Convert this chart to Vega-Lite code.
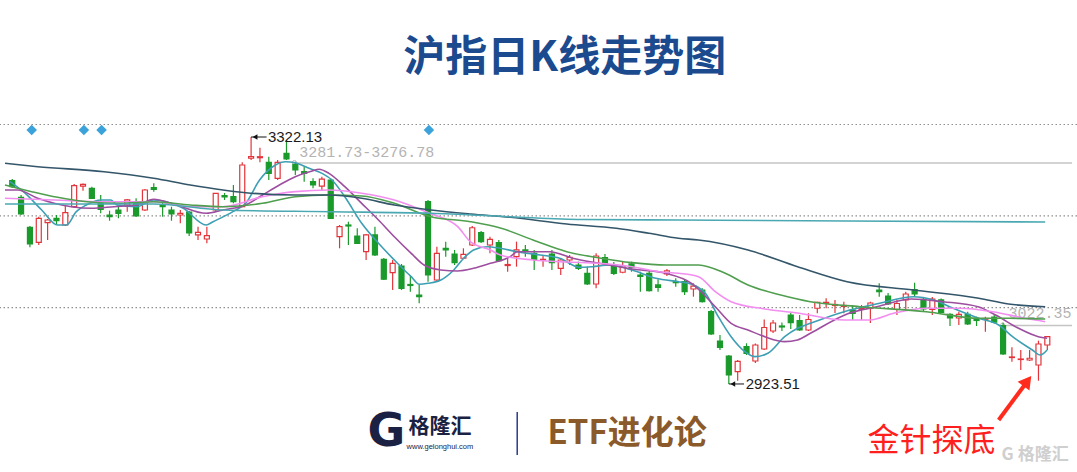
{
"$schema":"https://vega.github.io/schema/vega-lite/v6.json",
"width":1077,"height":472,"autosize":{"type":"none"},"padding":0,"background":"#ffffff",
"config":{"view":{"stroke":null}},
"datasets":{
"candles":[
{"i":0,"o":3251.6,"c":3241.9,"h":3254.3,"l":3239.8},
{"i":1,"o":3224.8,"c":3197.9,"h":3228.5,"l":3196.3},
{"i":2,"o":3176.4,"c":3149.4,"h":3178.5,"l":3144.1},
{"i":3,"o":3152.2,"c":3190.9,"h":3193.5,"l":3147.8},
{"i":4,"o":3183.8,"c":3188.2,"h":3189.8,"l":3155.9},
{"i":5,"o":3190.9,"c":3187.0,"h":3196.2,"l":3180.1},
{"i":6,"o":3180.1,"c":3200.0,"h":3210.8,"l":3178.5},
{"i":7,"o":3209.6,"c":3243.5,"h":3246.3,"l":3207.5},
{"i":8,"o":3243.0,"c":3245.8,"h":3247.1,"l":3235.5},
{"i":9,"o":3239.3,"c":3223.2,"h":3241.9,"l":3222.1},
{"i":10,"o":3215.1,"c":3205.4,"h":3228.5,"l":3199.0},
{"i":11,"o":3196.2,"c":3193.5,"h":3203.2,"l":3187.0},
{"i":12,"o":3204.3,"c":3199.0,"h":3212.4,"l":3190.9},
{"i":13,"o":3212.4,"c":3220.5,"h":3222.1,"l":3201.6},
{"i":14,"o":3217.7,"c":3194.6,"h":3223.2,"l":3193.5},
{"i":15,"o":3204.3,"c":3236.6,"h":3238.2,"l":3202.7},
{"i":16,"o":3240.3,"c":3237.7,"h":3247.4,"l":3233.9},
{"i":17,"o":3212.4,"c":3209.6,"h":3215.6,"l":3193.5},
{"i":18,"o":3204.3,"c":3197.9,"h":3209.6,"l":3187.0},
{"i":19,"o":3196.2,"c":3199.0,"h":3204.3,"l":3182.8},
{"i":20,"o":3201.1,"c":3167.2,"h":3202.7,"l":3162.3},
{"i":21,"o":3164.0,"c":3168.3,"h":3177.4,"l":3155.9},
{"i":22,"o":3157.5,"c":3162.8,"h":3177.4,"l":3150.6},
{"i":23,"o":3204.3,"c":3231.3,"h":3231.8,"l":3202.7},
{"i":24,"o":3227.4,"c":3225.3,"h":3231.8,"l":3220.5},
{"i":25,"o":3225.8,"c":3217.7,"h":3244.7,"l":3215.1},
{"i":26,"o":3209.6,"c":3276.9,"h":3281.3,"l":3208.8},
{"i":27,"o":3287.8,"c":3290.3,"h":3322.13,"l":3285.0},
{"i":28,"o":3288.7,"c":3290.3,"h":3304.9,"l":3281.3},
{"i":29,"o":3281.3,"c":3263.5,"h":3290.3,"l":3252.7},
{"i":30,"o":3255.5,"c":3281.3,"h":3285.0,"l":3252.7},
{"i":31,"o":3295.8,"c":3286.6,"h":3317.3,"l":3285.0},
{"i":32,"o":3278.1,"c":3268.9,"h":3282.3,"l":3260.8},
{"i":33,"o":3266.1,"c":3263.5,"h":3274.2,"l":3250.0},
{"i":34,"o":3250.0,"c":3244.7,"h":3255.5,"l":3239.3},
{"i":35,"o":3243.0,"c":3254.3,"h":3258.1,"l":3236.6},
{"i":36,"o":3252.7,"c":3190.9,"h":3255.5,"l":3189.8},
{"i":37,"o":3161.2,"c":3177.4,"h":3180.1,"l":3142.5},
{"i":38,"o":3180.1,"c":3178.5,"h":3185.4,"l":3147.8},
{"i":39,"o":3162.3,"c":3150.6,"h":3174.8,"l":3149.4},
{"i":40,"o":3137.0,"c":3164.0,"h":3165.6,"l":3123.6},
{"i":41,"o":3164.0,"c":3131.7,"h":3177.4,"l":3130.1},
{"i":42,"o":3124.7,"c":3092.5,"h":3126.8,"l":3091.3},
{"i":43,"o":3103.1,"c":3118.3,"h":3123.6,"l":3075.2},
{"i":44,"o":3113.9,"c":3077.9,"h":3117.2,"l":3075.2},
{"i":45,"o":3084.1,"c":3082.5,"h":3099.4,"l":3072.5},
{"i":46,"o":3067.1,"c":3064.4,"h":3083.3,"l":3053.7},
{"i":47,"o":3217.7,"c":3099.4,"h":3220.5,"l":3088.6},
{"i":48,"o":3091.3,"c":3134.4,"h":3145.1,"l":3089.7},
{"i":49,"o":3142.5,"c":3139.8,"h":3153.2,"l":3128.9},
{"i":50,"o":3133.3,"c":3119.3,"h":3139.8,"l":3115.5},
{"i":51,"o":3126.4,"c":3132.8,"h":3142.5,"l":3125.2},
{"i":52,"o":3147.8,"c":3175.7,"h":3178.5,"l":3146.2},
{"i":53,"o":3167.7,"c":3153.2,"h":3170.4,"l":3151.0},
{"i":54,"o":3147.8,"c":3157.0,"h":3161.2,"l":3134.4},
{"i":55,"o":3151.5,"c":3122.5,"h":3156.0,"l":3120.4},
{"i":56,"o":3114.7,"c":3116.3,"h":3125.2,"l":3104.7},
{"i":57,"o":3128.9,"c":3139.8,"h":3153.2,"l":3112.8},
{"i":58,"o":3139.8,"c":3137.0,"h":3147.8,"l":3128.9},
{"i":59,"o":3134.4,"c":3124.7,"h":3139.8,"l":3107.5},
{"i":60,"o":3123.6,"c":3124.7,"h":3131.7,"l":3112.8},
{"i":61,"o":3133.3,"c":3119.3,"h":3139.8,"l":3107.5},
{"i":62,"o":3110.2,"c":3123.6,"h":3126.8,"l":3099.4},
{"i":63,"o":3123.6,"c":3128.0,"h":3131.7,"l":3115.5},
{"i":64,"o":3115.5,"c":3110.2,"h":3120.9,"l":3107.5},
{"i":65,"o":3102.1,"c":3084.9,"h":3112.8,"l":3083.3},
{"i":66,"o":3084.9,"c":3130.1,"h":3134.4,"l":3077.9},
{"i":67,"o":3127.6,"c":3118.3,"h":3133.3,"l":3115.5},
{"i":68,"o":3112.8,"c":3102.1,"h":3120.4,"l":3099.4},
{"i":69,"o":3103.8,"c":3113.9,"h":3122.0,"l":3102.1},
{"i":70,"o":3117.2,"c":3111.5,"h":3120.9,"l":3104.7},
{"i":71,"o":3099.4,"c":3097.0,"h":3104.7,"l":3072.5},
{"i":72,"o":3102.1,"c":3074.1,"h":3107.5,"l":3072.8},
{"i":73,"o":3083.3,"c":3079.2,"h":3092.5,"l":3072.5},
{"i":74,"o":3101.0,"c":3105.9,"h":3109.1,"l":3097.8},
{"i":75,"o":3088.9,"c":3087.0,"h":3094.1,"l":3080.5},
{"i":76,"o":3088.6,"c":3072.5,"h":3091.3,"l":3067.1},
{"i":77,"o":3076.8,"c":3081.6,"h":3086.0,"l":3064.4},
{"i":78,"o":3075.2,"c":3056.3,"h":3077.9,"l":3055.0},
{"i":79,"o":3040.2,"c":3004.2,"h":3043.0,"l":3002.6},
{"i":80,"o":2992.9,"c":2982.7,"h":3002.6,"l":2978.4},
{"i":81,"o":2968.7,"c":2938.0,"h":2970.3,"l":2923.51},
{"i":82,"o":2943.3,"c":2960.1,"h":2962.2,"l":2928.8},
{"i":83,"o":2983.7,"c":2973.0,"h":2989.2,"l":2970.3},
{"i":84,"o":2960.6,"c":2986.4,"h":2988.8,"l":2957.4},
{"i":85,"o":2980.0,"c":3014.7,"h":3027.6,"l":2978.4},
{"i":86,"o":3009.0,"c":3021.9,"h":3026.8,"l":3005.8},
{"i":87,"o":3017.1,"c":3015.5,"h":3022.7,"l":3009.0},
{"i":88,"o":3034.8,"c":3022.4,"h":3038.1,"l":3012.2},
{"i":89,"o":3026.0,"c":3010.6,"h":3034.8,"l":3009.5},
{"i":90,"o":3010.6,"c":3027.6,"h":3037.6,"l":3009.0},
{"i":91,"o":3045.7,"c":3055.3,"h":3056.3,"l":3037.6},
{"i":92,"o":3053.7,"c":3055.3,"h":3061.8,"l":3045.7},
{"i":93,"o":3050.2,"c":3051.8,"h":3059.1,"l":3038.1},
{"i":94,"o":3048.6,"c":3050.2,"h":3056.3,"l":3037.6},
{"i":95,"o":3042.9,"c":3037.6,"h":3051.0,"l":3026.8},
{"i":96,"o":3044.0,"c":3045.3,"h":3051.0,"l":3026.8},
{"i":97,"o":3045.7,"c":3054.2,"h":3056.3,"l":3022.0},
{"i":98,"o":3075.2,"c":3072.5,"h":3086.0,"l":3064.4},
{"i":99,"o":3065.5,"c":3052.6,"h":3070.3,"l":3051.0},
{"i":100,"o":3043.7,"c":3053.4,"h":3059.1,"l":3034.9},
{"i":101,"o":3059.1,"c":3068.7,"h":3072.5,"l":3043.0},
{"i":102,"o":3075.7,"c":3068.7,"h":3087.0,"l":3064.4},
{"i":103,"o":3059.9,"c":3044.5,"h":3064.0,"l":3040.7},
{"i":104,"o":3044.0,"c":3060.7,"h":3064.0,"l":3034.9},
{"i":105,"o":3059.1,"c":3038.9,"h":3061.5,"l":3038.1},
{"i":106,"o":3036.0,"c":3030.0,"h":3037.6,"l":3017.1},
{"i":107,"o":3030.0,"c":3036.0,"h":3040.2,"l":3018.7},
{"i":108,"o":3036.0,"c":3020.3,"h":3040.2,"l":3018.7},
{"i":109,"o":3027.9,"c":3026.0,"h":3032.1,"l":3017.1},
{"i":110,"o":3027.9,"c":3029.2,"h":3032.1,"l":3007.9},
{"i":111,"o":3031.6,"c":3023.1,"h":3034.8,"l":3021.4},
{"i":112,"o":3017.9,"c":2971.9,"h":3022.4,"l":2970.3},
{"i":113,"o":2966.2,"c":2967.1,"h":2982.7,"l":2959.5},
{"i":114,"o":2963.0,"c":2963.8,"h":2978.4,"l":2946.1},
{"i":115,"o":2962.2,"c":2965.0,"h":2978.4,"l":2960.6},
{"i":116,"o":2954.1,"c":2988.0,"h":2993.4,"l":2928.8},
{"i":117,"o":2986.4,"c":2999.8,"h":3000.9,"l":2978.4}
],
"ma":[
{"s":"MA5","i":-0.26,"p":3250.0},{"s":"MA5","i":1.42,"p":3231.8},{"s":"MA5","i":3.33,"p":3204.3},{"s":"MA5","i":5.12,"p":3180.1},{"s":"MA5","i":6.13,"p":3180.1},{"s":"MA5","i":7.24,"p":3201.6},{"s":"MA5","i":8.37,"p":3212.4},{"s":"MA5","i":10.04,"p":3220.5},{"s":"MA5","i":11.16,"p":3220.5},{"s":"MA5","i":11.84,"p":3212.4},{"s":"MA5","i":14.08,"p":3209.6},{"s":"MA5","i":15.98,"p":3220.5},{"s":"MA5","i":17.44,"p":3217.7},{"s":"MA5","i":19.34,"p":3207.1},{"s":"MA5","i":21.92,"p":3180.1},{"s":"MA5","i":22.7,"p":3185.4},{"s":"MA5","i":24.94,"p":3201.6},{"s":"MA5","i":26.39,"p":3215.1},{"s":"MA5","i":27.96,"p":3252.7},{"s":"MA5","i":29.75,"p":3276.9},{"s":"MA5","i":30.87,"p":3282.2},{"s":"MA5","i":31.99,"p":3280.6},{"s":"MA5","i":33.56,"p":3271.6},{"s":"MA5","i":35.02,"p":3263.5},{"s":"MA5","i":36.14,"p":3252.7},{"s":"MA5","i":37.59,"p":3225.8},{"s":"MA5","i":39.5,"p":3182.9},{"s":"MA5","i":41.4,"p":3150.6},{"s":"MA5","i":43.19,"p":3123.6},{"s":"MA5","i":44.31,"p":3107.5},{"s":"MA5","i":45.1,"p":3096.7},{"s":"MA5","i":46.0,"p":3084.4},{"s":"MA5","i":47.0,"p":3086.0},{"s":"MA5","i":48.45,"p":3091.3},{"s":"MA5","i":49.91,"p":3107.5},{"s":"MA5","i":51.03,"p":3126.4},{"s":"MA5","i":52.15,"p":3139.8},{"s":"MA5","i":53.72,"p":3145.1},{"s":"MA5","i":55.17,"p":3142.5},{"s":"MA5","i":57.08,"p":3137.0},{"s":"MA5","i":59.65,"p":3131.7},{"s":"MA5","i":61.89,"p":3126.4},{"s":"MA5","i":64.13,"p":3111.8},{"s":"MA5","i":65.59,"p":3112.8},{"s":"MA5","i":67.49,"p":3115.5},{"s":"MA5","i":70.07,"p":3107.5},{"s":"MA5","i":72.76,"p":3094.1},{"s":"MA5","i":75.3,"p":3088.6},{"s":"MA5","i":76.45,"p":3086.0},{"s":"MA5","i":78.35,"p":3069.9},{"s":"MA5","i":79.81,"p":3032.1},{"s":"MA5","i":81.26,"p":2999.8},{"s":"MA5","i":82.83,"p":2975.6},{"s":"MA5","i":83.95,"p":2967.6},{"s":"MA5","i":85.41,"p":2973.0},{"s":"MA5","i":87.31,"p":2999.8},{"s":"MA5","i":88.77,"p":3013.4},{"s":"MA5","i":90.22,"p":3021.4},{"s":"MA5","i":94.03,"p":3040.2},{"s":"MA5","i":98.06,"p":3053.7},{"s":"MA5","i":101.87,"p":3064.4},{"s":"MA5","i":104.11,"p":3059.1},{"s":"MA5","i":106.35,"p":3045.7},{"s":"MA5","i":109.26,"p":3029.5},{"s":"MA5","i":111.5,"p":3018.7},{"s":"MA5","i":113.07,"p":2999.8},{"s":"MA5","i":115.31,"p":2978.4},{"s":"MA5","i":116.2,"p":2970.3},{"s":"MA5","i":116.98,"p":2978.4},
{"s":"MA10","i":-0.82,"p":3236.6},{"s":"MA10","i":0.64,"p":3236.6},{"s":"MA10","i":2.88,"p":3223.2},{"s":"MA10","i":6.69,"p":3209.6},{"s":"MA10","i":8.93,"p":3207.1},{"s":"MA10","i":11.5,"p":3209.6},{"s":"MA10","i":14.08,"p":3212.4},{"s":"MA10","i":15.98,"p":3221.6},{"s":"MA10","i":18.56,"p":3212.4},{"s":"MA10","i":21.92,"p":3199.0},{"s":"MA10","i":23.82,"p":3204.3},{"s":"MA10","i":26.39,"p":3212.4},{"s":"MA10","i":28.29,"p":3228.5},{"s":"MA10","i":30.2,"p":3244.7},{"s":"MA10","i":31.99,"p":3258.1},{"s":"MA10","i":33.9,"p":3267.3},{"s":"MA10","i":34.68,"p":3270.0},{"s":"MA10","i":35.8,"p":3263.5},{"s":"MA10","i":37.59,"p":3241.9},{"s":"MA10","i":39.5,"p":3215.1},{"s":"MA10","i":41.4,"p":3188.2},{"s":"MA10","i":43.19,"p":3161.2},{"s":"MA10","i":45.1,"p":3134.4},{"s":"MA10","i":46.55,"p":3115.5},{"s":"MA10","i":48.45,"p":3107.5},{"s":"MA10","i":50.36,"p":3105.9},{"s":"MA10","i":52.15,"p":3110.2},{"s":"MA10","i":54.05,"p":3118.3},{"s":"MA10","i":56.29,"p":3129.0},{"s":"MA10","i":57.08,"p":3137.0},{"s":"MA10","i":60.77,"p":3137.0},{"s":"MA10","i":63.35,"p":3126.4},{"s":"MA10","i":66.37,"p":3118.3},{"s":"MA10","i":70.07,"p":3109.1},{"s":"MA10","i":73.88,"p":3102.1},{"s":"MA10","i":76.79,"p":3086.0},{"s":"MA10","i":79.47,"p":3048.2},{"s":"MA10","i":81.26,"p":3021.4},{"s":"MA10","i":83.17,"p":3010.6},{"s":"MA10","i":85.07,"p":2999.8},{"s":"MA10","i":87.31,"p":2991.8},{"s":"MA10","i":88.77,"p":2994.5},{"s":"MA10","i":90.22,"p":3005.3},{"s":"MA10","i":94.37,"p":3036.5},{"s":"MA10","i":97.72,"p":3048.2},{"s":"MA10","i":101.65,"p":3060.7},{"s":"MA10","i":105.23,"p":3056.3},{"s":"MA10","i":109.26,"p":3047.8},{"s":"MA10","i":111.16,"p":3034.8},{"s":"MA10","i":113.74,"p":3013.4},{"s":"MA10","i":115.98,"p":2999.8},{"s":"MA10","i":116.98,"p":2997.2},
{"s":"MA20","i":-0.82,"p":3223.2},{"s":"MA20","i":4.78,"p":3220.5},{"s":"MA20","i":10.38,"p":3217.7},{"s":"MA20","i":15.98,"p":3217.7},{"s":"MA20","i":20.12,"p":3209.6},{"s":"MA20","i":23.82,"p":3209.6},{"s":"MA20","i":28.29,"p":3225.8},{"s":"MA20","i":31.99,"p":3233.9},{"s":"MA20","i":35.8,"p":3236.6},{"s":"MA20","i":39.5,"p":3231.3},{"s":"MA20","i":43.19,"p":3220.5},{"s":"MA20","i":47.1,"p":3199.5},{"s":"MA20","i":50.36,"p":3177.4},{"s":"MA20","i":51.81,"p":3152.7},{"s":"MA20","i":54.05,"p":3139.8},{"s":"MA20","i":55.17,"p":3131.7},{"s":"MA20","i":58.87,"p":3123.6},{"s":"MA20","i":62.68,"p":3120.4},{"s":"MA20","i":66.37,"p":3118.3},{"s":"MA20","i":70.07,"p":3112.8},{"s":"MA20","i":73.09,"p":3104.7},{"s":"MA20","i":75.3,"p":3102.1},{"s":"MA20","i":77.57,"p":3096.7},{"s":"MA20","i":79.47,"p":3072.5},{"s":"MA20","i":81.26,"p":3056.3},{"s":"MA20","i":85.07,"p":3044.5},{"s":"MA20","i":88.77,"p":3038.1},{"s":"MA20","i":94.03,"p":3026.8},{"s":"MA20","i":96.94,"p":3026.8},{"s":"MA20","i":99.63,"p":3037.6},{"s":"MA20","i":103.32,"p":3045.7},{"s":"MA20","i":107.02,"p":3045.7},{"s":"MA20","i":110.83,"p":3040.2},{"s":"MA20","i":114.52,"p":3029.5},{"s":"MA20","i":116.76,"p":3024.0},
{"s":"MA30","i":-0.82,"p":3244.7},{"s":"MA30","i":2.21,"p":3233.9},{"s":"MA30","i":5.12,"p":3224.8},{"s":"MA30","i":8.48,"p":3217.7},{"s":"MA30","i":12.28,"p":3215.1},{"s":"MA30","i":15.98,"p":3217.7},{"s":"MA30","i":20.12,"p":3212.4},{"s":"MA30","i":23.82,"p":3209.6},{"s":"MA30","i":28.29,"p":3215.1},{"s":"MA30","i":31.99,"p":3225.8},{"s":"MA30","i":35.8,"p":3228.5},{"s":"MA30","i":39.5,"p":3226.9},{"s":"MA30","i":43.19,"p":3215.1},{"s":"MA30","i":47.33,"p":3193.5},{"s":"MA30","i":51.81,"p":3185.4},{"s":"MA30","i":55.17,"p":3175.3},{"s":"MA30","i":58.87,"p":3155.9},{"s":"MA30","i":62.68,"p":3137.0},{"s":"MA30","i":66.37,"p":3126.9},{"s":"MA30","i":70.07,"p":3119.3},{"s":"MA30","i":73.88,"p":3115.5},{"s":"MA30","i":77.57,"p":3115.5},{"s":"MA30","i":80.6,"p":3102.1},{"s":"MA30","i":83.17,"p":3083.3},{"s":"MA30","i":86.87,"p":3067.1},{"s":"MA30","i":90.22,"p":3056.3},{"s":"MA30","i":95.82,"p":3048.2},{"s":"MA30","i":103.32,"p":3040.2},{"s":"MA30","i":109.26,"p":3029.5},{"s":"MA30","i":112.62,"p":3029.5},{"s":"MA30","i":116.76,"p":3028.4},
{"s":"MA60","i":-0.82,"p":3279.7},{"s":"MA60","i":2.88,"p":3274.2},{"s":"MA60","i":10.38,"p":3266.1},{"s":"MA60","i":15.98,"p":3255.5},{"s":"MA60","i":20.12,"p":3244.7},{"s":"MA60","i":23.82,"p":3236.6},{"s":"MA60","i":26.39,"p":3232.2},{"s":"MA60","i":31.99,"p":3228.5},{"s":"MA60","i":35.8,"p":3228.5},{"s":"MA60","i":39.5,"p":3223.2},{"s":"MA60","i":43.19,"p":3212.4},{"s":"MA60","i":47.33,"p":3204.3},{"s":"MA60","i":51.81,"p":3197.9},{"s":"MA60","i":56.29,"p":3192.6},{"s":"MA60","i":62.68,"p":3181.7},{"s":"MA60","i":68.28,"p":3174.8},{"s":"MA60","i":71.97,"p":3166.7},{"s":"MA60","i":75.3,"p":3158.6},{"s":"MA60","i":77.57,"p":3155.9},{"s":"MA60","i":83.17,"p":3139.8},{"s":"MA60","i":88.77,"p":3112.8},{"s":"MA60","i":94.37,"p":3088.6},{"s":"MA60","i":101.87,"p":3075.2},{"s":"MA60","i":109.26,"p":3061.8},{"s":"MA60","i":112.62,"p":3052.6},{"s":"MA60","i":116.76,"p":3048.2},
{"s":"MA250","i":-0.82,"p":3214.0},{"s":"MA250","i":15.98,"p":3214.0},{"s":"MA250","i":23.82,"p":3204.3},{"s":"MA250","i":36.14,"p":3201.6},{"s":"MA250","i":47.33,"p":3199.0},{"s":"MA250","i":56.29,"p":3193.5},{"s":"MA250","i":64.47,"p":3189.0},{"s":"MA250","i":75.3,"p":3188.2},{"s":"MA250","i":94.37,"p":3186.6},{"s":"MA250","i":116.76,"p":3184.9}
]
},
"layer":[
{"data":{"values":[{"p":3342.3},{"p":3194.8},{"p":3046.9}]},
 "mark":{"type":"rule","color":"#8f8f8f","strokeDash":[1.5,2.5],"strokeWidth":1.2},
 "encoding":{"y":{"field":"p","type":"quantitative","scale":{"domain":[2781.44,3543.25],"nice":false,"zero":false},"axis":null}}},
{"data":{"values":[{"i":31.9,"i2":119.8,"p":3280.2},{"i":111.95,"i2":119.8,"p":3017.9}]},
 "mark":{"type":"rule","color":"#c4c4c4","strokeWidth":1.6},
 "encoding":{"x":{"field":"i","type":"quantitative","scale":{"domain":[-0.8175,119.79],"nice":false,"zero":false},"axis":null},"x2":{"field":"i2"},
  "y":{"field":"p","type":"quantitative","scale":{"domain":[2781.44,3543.25],"nice":false,"zero":false},"axis":null}}},
{"data":{"values":[{"i":31.9,"p":3281.0},{"i":111.95,"p":3018.7}]},
 "mark":{"type":"point","shape":"circle","size":16,"filled":false,"color":"#9a9a9a","strokeWidth":1},
 "encoding":{"x":{"field":"i","type":"quantitative","scale":{"domain":[-0.8175,119.79],"nice":false,"zero":false},"axis":null},
  "y":{"field":"p","type":"quantitative","scale":{"domain":[2781.44,3543.25],"nice":false,"zero":false},"axis":null}}},
{"data":{"values":[{"t":"3281.73-3276.78","i":32.44,"p":3297.9},{"t":"3022.35","i":112.6,"p":3038.1}]},
 "mark":{"type":"text","font":"Liberation Mono","fontSize":15,"color":"#b3b3b3","align":"left","baseline":"middle"},
 "encoding":{"x":{"field":"i","type":"quantitative","scale":{"domain":[-0.8175,119.79],"nice":false,"zero":false},"axis":null},
  "y":{"field":"p","type":"quantitative","scale":{"domain":[2781.44,3543.25],"nice":false,"zero":false},"axis":null},"text":{"field":"t"}}},
{"data":{"values":[{"i":2.2,"p":3333.4},{"i":8.1,"p":3333.4},{"i":10.1,"p":3333.4},{"i":47.1,"p":3333.4}]},
 "mark":{"type":"point","shape":"diamond","filled":true,"size":110,"color":"#3ba3d9","opacity":1},
 "encoding":{"x":{"field":"i","type":"quantitative","scale":{"domain":[-0.8175,119.79],"nice":false,"zero":false},"axis":null},
  "y":{"field":"p","type":"quantitative","scale":{"domain":[2781.44,3543.25],"nice":false,"zero":false},"axis":null}}},
{"data":{"name":"candles"},
 "mark":{"type":"rule","strokeWidth":1.2},
 "encoding":{"x":{"field":"i","type":"quantitative","scale":{"domain":[-0.8175,119.79],"nice":false,"zero":false},"axis":null},
  "y":{"field":"l","type":"quantitative","scale":{"domain":[2781.44,3543.25],"nice":false,"zero":false},"axis":null},"y2":{"field":"h"},
  "color":{"condition":{"test":"datum.c >= datum.o","value":"#e2343a"},"value":"#1a9a2a"}}},
{"data":{"name":"candles"},
 "mark":{"type":"bar","width":5,"strokeWidth":1.2},
 "encoding":{"x":{"field":"i","type":"quantitative","scale":{"domain":[-0.8175,119.79],"nice":false,"zero":false},"axis":null},
  "y":{"field":"o","type":"quantitative","scale":{"domain":[2781.44,3543.25],"nice":false,"zero":false},"axis":null},"y2":{"field":"c"},
  "fill":{"condition":{"test":"datum.c >= datum.o","value":"#ffffff"},"value":"#1a9a2a"},
  "stroke":{"condition":{"test":"datum.c >= datum.o","value":"#e2343a"},"value":"#1a9a2a"}}},
{"data":{"name":"ma"},
 "mark":{"type":"line","strokeWidth":1.6,"interpolate":"monotone"},
 "encoding":{"x":{"field":"i","type":"quantitative","scale":{"domain":[-0.8175,119.79],"nice":false,"zero":false},"axis":null},
  "y":{"field":"p","type":"quantitative","scale":{"domain":[2781.44,3543.25],"nice":false,"zero":false},"axis":null},
  "color":{"field":"s","type":"nominal","scale":{"domain":["MA5","MA10","MA20","MA30","MA60","MA250"],"range":["#3d9fb4","#9d4e9f","#f28ef0","#4f9f4f","#34566a","#4aa8b2"]},"legend":null}}},
{"data":{"values":[{"i":27.0,"i2":28.75,"p":3322.13},{"i":81.0,"i2":82.72,"p":2923.51}]},
 "mark":{"type":"rule","color":"#111111","strokeWidth":1},
 "encoding":{"x":{"field":"i","type":"quantitative","scale":{"domain":[-0.8175,119.79],"nice":false,"zero":false},"axis":null},"x2":{"field":"i2"},
  "y":{"field":"p","type":"quantitative","scale":{"domain":[2781.44,3543.25],"nice":false,"zero":false},"axis":null}}},
{"data":{"values":[{"i":27.45,"p":3322.13},{"i":81.45,"p":2923.51}]},
 "mark":{"type":"point","shape":"triangle-left","filled":true,"size":30,"color":"#111111","opacity":1},
 "encoding":{"x":{"field":"i","type":"quantitative","scale":{"domain":[-0.8175,119.79],"nice":false,"zero":false},"axis":null},
  "y":{"field":"p","type":"quantitative","scale":{"domain":[2781.44,3543.25],"nice":false,"zero":false},"axis":null}}},
{"data":{"values":[{"t":"3322.13","i":28.9,"p":3322.13},{"t":"2923.51","i":82.9,"p":2923.51}]},
 "mark":{"type":"text","font":"Liberation Sans","fontSize":15,"color":"#1a1a1a","align":"left","baseline":"middle"},
 "encoding":{"x":{"field":"i","type":"quantitative","scale":{"domain":[-0.8175,119.79],"nice":false,"zero":false},"axis":null},
  "y":{"field":"p","type":"quantitative","scale":{"domain":[2781.44,3543.25],"nice":false,"zero":false},"axis":null},"text":{"field":"t"}}},
{"data":{"values":[{"t":"沪指日K线走势图","i":62.45,"p":3449.6}]},
 "mark":{"type":"text","font":"Noto Sans CJK SC","fontSize":42,"fontWeight":"bold","color":"#1b4a8e","align":"center","baseline":"middle"},
 "encoding":{"x":{"field":"i","type":"quantitative","scale":{"domain":[-0.8175,119.79],"nice":false,"zero":false},"axis":null},
  "y":{"field":"p","type":"quantitative","scale":{"domain":[2781.44,3543.25],"nice":false,"zero":false},"axis":null},"text":{"field":"t"}}},
{"data":{"values":[{"t":"G","i":42.29,"p":2846.0}]},
 "mark":{"type":"text","font":"DejaVu Sans","fontSize":46,"fontWeight":"bold","color":"#1a2142","align":"center","baseline":"middle"},
 "encoding":{"x":{"field":"i","type":"quantitative","scale":{"domain":[-0.8175,119.79],"nice":false,"zero":false},"axis":null},
  "y":{"field":"p","type":"quantitative","scale":{"domain":[2781.44,3543.25],"nice":false,"zero":false},"axis":null},"text":{"field":"t"}}},
{"data":{"values":[{"t":"格隆汇","i":48.34,"p":2854.1}]},
 "mark":{"type":"text","font":"Noto Sans CJK SC","fontSize":21,"fontWeight":"bold","color":"#1a2142","align":"center","baseline":"middle"},
 "encoding":{"x":{"field":"i","type":"quantitative","scale":{"domain":[-0.8175,119.79],"nice":false,"zero":false},"axis":null},
  "y":{"field":"p","type":"quantitative","scale":{"domain":[2781.44,3543.25],"nice":false,"zero":false},"axis":null},"text":{"field":"t"}}},
{"data":{"values":[{"t":"www.gelonghui.com","i":48.34,"p":2821.8}]},
 "mark":{"type":"text","font":"Liberation Sans","fontSize":7.5,"color":"#1a2142","align":"center","baseline":"middle"},
 "encoding":{"x":{"field":"i","type":"quantitative","scale":{"domain":[-0.8175,119.79],"nice":false,"zero":false},"axis":null},
  "y":{"field":"p","type":"quantitative","scale":{"domain":[2781.44,3543.25],"nice":false,"zero":false},"axis":null},"text":{"field":"t"}}},
{"data":{"values":[{"i":57.08,"p":2878.3,"p2":2808.9}]},
 "mark":{"type":"rule","color":"#2c3a8c","strokeWidth":1.5},
 "encoding":{"x":{"field":"i","type":"quantitative","scale":{"domain":[-0.8175,119.79],"nice":false,"zero":false},"axis":null},
  "y":{"field":"p","type":"quantitative","scale":{"domain":[2781.44,3543.25],"nice":false,"zero":false},"axis":null},"y2":{"field":"p2"}}},
{"data":{"values":[{"t":"ETF进化论","i":69.5,"p":2842.8}]},
 "mark":{"type":"text","font":"Noto Sans CJK SC","fontSize":33,"fontWeight":"bold","color":"#8b5a2b","align":"center","baseline":"middle"},
 "encoding":{"x":{"field":"i","type":"quantitative","scale":{"domain":[-0.8175,119.79],"nice":false,"zero":false},"axis":null},
  "y":{"field":"p","type":"quantitative","scale":{"domain":[2781.44,3543.25],"nice":false,"zero":false},"axis":null},"text":{"field":"t"}}},
{"data":{"values":[{"t":"金针探底","i":103.9,"p":2831.5}]},
 "mark":{"type":"text","font":"Noto Sans CJK SC","fontSize":32,"color":"#ff1f1f","align":"center","baseline":"middle"},
 "encoding":{"x":{"field":"i","type":"quantitative","scale":{"domain":[-0.8175,119.79],"nice":false,"zero":false},"axis":null},
  "y":{"field":"p","type":"quantitative","scale":{"domain":[2781.44,3543.25],"nice":false,"zero":false},"axis":null},"text":{"field":"t"}}},
{"data":{"values":[{"i":111.5,"p":2865.4,"i2":114.52,"p2":2923.5}]},
 "mark":{"type":"rule","color":"#ff2b1c","strokeWidth":4},
 "encoding":{"x":{"field":"i","type":"quantitative","scale":{"domain":[-0.8175,119.79],"nice":false,"zero":false},"axis":null},"x2":{"field":"i2"},
  "y":{"field":"p","type":"quantitative","scale":{"domain":[2781.44,3543.25],"nice":false,"zero":false},"axis":null},"y2":{"field":"p2"}}},
{"data":{"values":[{"i":114.75,"p":2928.3}]},
 "mark":{"type":"point","shape":"triangle-up","angle":37,"filled":true,"size":220,"color":"#ff2b1c","opacity":1},
 "encoding":{"x":{"field":"i","type":"quantitative","scale":{"domain":[-0.8175,119.79],"nice":false,"zero":false},"axis":null},
  "y":{"field":"p","type":"quantitative","scale":{"domain":[2781.44,3543.25],"nice":false,"zero":false},"axis":null}}},
{"data":{"values":[{"t":"G","i":112.5,"p":2808.9},{"t":"格隆汇","i":116.54,"p":2808.9}]},
 "mark":{"type":"text","font":"Noto Sans CJK SC","fontSize":17,"fontWeight":"bold","color":"#cfcfcf","align":"center","baseline":"middle"},
 "encoding":{"x":{"field":"i","type":"quantitative","scale":{"domain":[-0.8175,119.79],"nice":false,"zero":false},"axis":null},
  "y":{"field":"p","type":"quantitative","scale":{"domain":[2781.44,3543.25],"nice":false,"zero":false},"axis":null},"text":{"field":"t"}}}
]
}
